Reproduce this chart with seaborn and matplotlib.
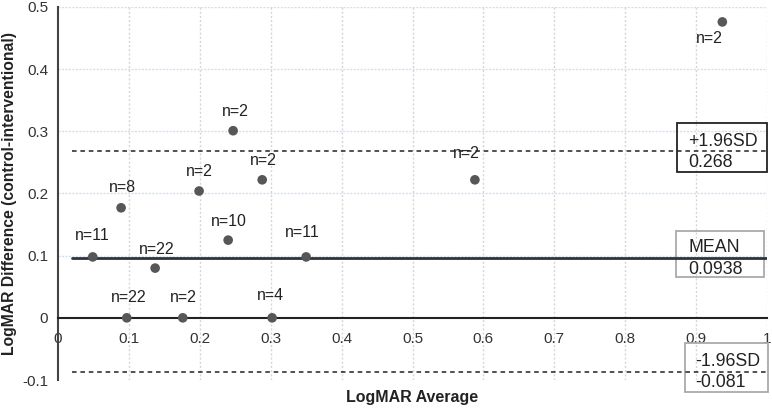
import seaborn as sns
import matplotlib.pyplot as plt
import pandas as pd
from matplotlib.patches import Rectangle

# Bland-Altman style data
avg_logmar = [0.049, 0.089, 0.137, 0.097, 0.176, 0.302, 0.240, 0.350,
              0.199, 0.247, 0.288, 0.588, 0.937]
diff_logmar = [0.098, 0.177, 0.080, 0.0, 0.0, 0.0, 0.125, 0.098,
               0.204, 0.301, 0.222, 0.222, 0.476]
n_eyes = [11, 8, 22, 22, 2, 4, 10, 11, 2, 2, 2, 2, 2]

mean_line = 0.097
upper_line = 0.268
lower_line = -0.087
line_start = 0.02

box_labels = [("+1.96SD", "0.268"), ("MEAN", "0.0938"), ("-1.96SD", "-0.081")]

x_ticks = [0, 0.1, 0.2, 0.3, 0.4, 0.5, 0.6, 0.7, 0.8, 0.9, 1]
x_tick_labels = ["0", "0.1", "0.2", "0.3", "0.4", "0.5", "0.6", "0.7", "0.8", "0.9", "1"]
y_ticks = [-0.1, 0, 0.1, 0.2, 0.3, 0.4, 0.5]
y_tick_labels = ["-0.1", "0", "0.1", "0.2", "0.3", "0.4", "0.5"]

# label offsets in pixels (dx, dy) for the n= annotations
label_offsets = [(0, 21), (1, 20), (2, 19), (2, 20), (1, 20), (-2, 22), (1, 19),
                 (-4, 24), (0, 20), (2, 19), (1, 19), (-9, 26), (-13, -17)]

sns.set_style("white")
plt.rcParams['font.family'] = ['Liberation Sans', 'DejaVu Sans']

df = pd.DataFrame({"avg": avg_logmar, "diff": diff_logmar, "n": n_eyes})

fig = plt.figure(figsize=(7.72, 4.15), dpi=100)
ax = fig.add_axes([58 / 772, 1 - 380 / 415, 709 / 772, 373 / 415])
ax.set_xlim(0, 1)
ax.set_ylim(-0.1, 0.5)

# grid
for yv in [0.1, 0.2, 0.3, 0.4, 0.5]:
    ax.axhline(yv, color="#cfe0f4", lw=1, ls=(0, (1.5, 1)), zorder=0)
for xv in x_ticks[1:]:
    ax.axvline(xv, color="#d6d6d6", lw=1, ls=(0, (1.5, 1.5)), zorder=0)

# reference lines
ax.plot([line_start, 1], [mean_line, mean_line], color="#333333", lw=2, zorder=2)
ax.plot([line_start, 1], [upper_line, upper_line], color="#222222", lw=1.1,
        ls=(0, (3, 2.5)), zorder=2)
ax.plot([line_start, 1], [lower_line, lower_line], color="#222222", lw=1.1,
        ls=(0, (3, 2.5)), zorder=2, clip_on=False)

sns.scatterplot(data=df, x="avg", y="diff", color="#575757", s=48,
                edgecolor="none", ax=ax, zorder=3, clip_on=False)

for xv, yv, n, (dx, dy) in zip(avg_logmar, diff_logmar, n_eyes, label_offsets):
    ax.annotate(f"n={n}", (xv, yv), xytext=(dx, dy), textcoords="offset pixels",
                ha="center", va="center", fontsize=11.5, color="#222222")

# value boxes: (x0, y0, x1, y1, text x, line1 y, line2 y, edge color)
boxes = [
    (0.873, 0.2345, 1.0, 0.3133, 0.8886, 0.2844, 0.2498, "#222222"),
    (0.8717, 0.0656, 0.9958, 0.1396, 0.8886, 0.1126, 0.0772, "#aaaaaa"),
    (0.8843, -0.1193, 1.0014, -0.0405, 0.8984, -0.0695, -0.104, "#aaaaaa"),
]
for (top, bottom), (x0, y0, x1, y1, tx, ty1, ty2, ec) in zip(box_labels, boxes):
    ax.add_patch(Rectangle((x0, y0), x1 - x0, y1 - y0, fill=False, ec=ec,
                           lw=1.3, zorder=1, clip_on=False))
    ax.text(tx, ty1, top, fontsize=12.8, color="#222222", va="center", ha="left")
    ax.text(tx, ty2, bottom, fontsize=12.8, color="#222222", va="center", ha="left")

# axes
for side in ["top", "right"]:
    ax.spines[side].set_visible(False)
ax.spines["bottom"].set_position(("data", 0))
ax.spines["bottom"].set_color("#222222")
ax.spines["bottom"].set_linewidth(1.5)
ax.spines["left"].set_color("#444444")
ax.spines["left"].set_linewidth(1.5)

ax.set_xticks(x_ticks)
ax.set_xticklabels(x_tick_labels)
ax.set_yticks(y_ticks)
ax.set_yticklabels(y_tick_labels)
ax.tick_params(axis="x", length=0, pad=10, labelsize=11, labelcolor="#333333")
ax.tick_params(axis="y", length=0, pad=7, labelsize=11, labelcolor="#333333")

ax.set_xlabel("LogMAR Average", fontsize=11.5, fontweight="bold", color="#222222")
ax.set_ylabel("LogMAR Difference (control-interventional)", fontsize=11.3,
              fontweight="bold", color="#222222")
ax.xaxis.set_label_coords(0.5, -0.028)
ax.yaxis.set_label_coords(-0.058, 0.5)

fig.savefig("out.png", dpi=100)
